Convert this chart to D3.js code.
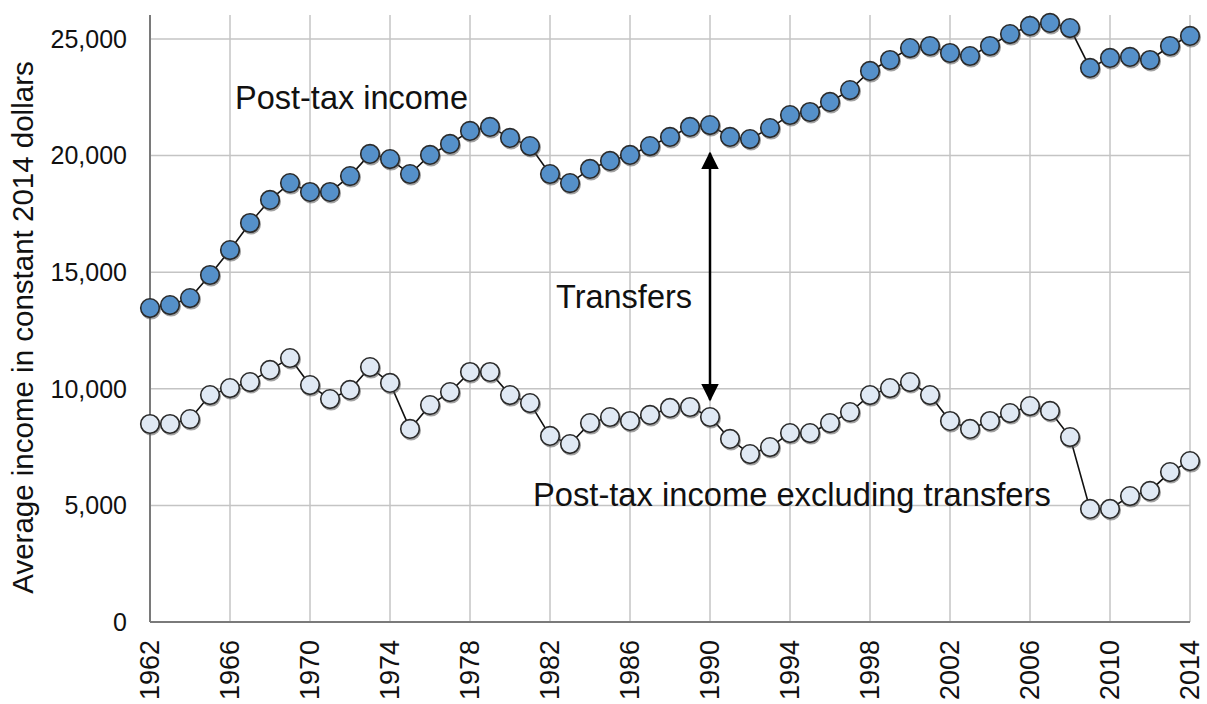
<!DOCTYPE html>
<html>
<head>
<meta charset="utf-8">
<script src="https://cdn.jsdelivr.net/npm/d3@7"></script>
<style>
  body { margin: 0; background: #fff; }
  svg text { font-family: "Liberation Sans", Arial, sans-serif; fill: #111; }
</style>
</head>
<body>
<svg id="chart"></svg>
<script>
// years 1962..2014
const years = d3.range(1962, 2015);

// average post-tax income (2014 dollars)
const postTax = [
  13460, 13590, 13890, 14880, 15950, 17110, 18100, 18820, 18440, 18440,
  19120, 20070, 19850, 19210, 20030, 20500, 21060, 21230, 20760, 20410,
  19210, 18820, 19430, 19770, 20030, 20410, 20800, 21230, 21310, 20800,
  20710, 21180, 21740, 21870, 22300, 22810, 23630, 24100, 24610, 24700,
  24400, 24270, 24700, 25210, 25560, 25690, 25470, 23760, 24190, 24230,
  24100, 24700, 25130
];

// post-tax income excluding transfers
const postTaxExTransfers = [
  8490, 8490, 8700, 9730, 10030, 10290, 10810, 11320, 10160, 9560,
  9950, 10930, 10250, 8280, 9300, 9860, 10720, 10720, 9730, 9390,
  7980, 7630, 8530, 8790, 8620, 8880, 9180, 9220, 8790, 7850,
  7200, 7500, 8100, 8100, 8530, 9000, 9730, 10030, 10290, 9730,
  8620, 8280, 8620, 8960, 9260, 9050, 7930, 4850, 4850, 5400,
  5620, 6430, 6900
];

const xTicks = d3.range(1962, 2015, 4);
const yTicks = [0, 5000, 10000, 15000, 20000, 25000];

const W = 1207, H = 704;
const mLeft = 150, mRight = 1190, mTop = 15, mBottom = 622;

const svg = d3.select("#chart").attr("width", W).attr("height", H);

const x = d3.scaleLinear().domain([1962, 2014]).range([mLeft, mRight]);
const y = d3.scaleLinear().domain([0, 25000]).range([mBottom, 39]);

// grid
svg.append("g").selectAll("line").data(yTicks.filter(d => d > 0)).enter().append("line")
  .attr("x1", mLeft).attr("x2", mRight)
  .attr("y1", d => y(d)).attr("y2", d => y(d))
  .attr("stroke", "#c4c4c4").attr("stroke-width", 1.5);

svg.append("g").selectAll("line").data(xTicks.filter(d => d > 1962)).enter().append("line")
  .attr("x1", d => x(d)).attr("x2", d => x(d))
  .attr("y1", mTop).attr("y2", mBottom)
  .attr("stroke", "#c4c4c4").attr("stroke-width", 1.5);

// axes lines
svg.append("line").attr("x1", mLeft).attr("x2", mLeft).attr("y1", mTop).attr("y2", mBottom)
  .attr("stroke", "#7a7a7a").attr("stroke-width", 2);
svg.append("line").attr("x1", mLeft).attr("x2", mRight).attr("y1", mBottom).attr("y2", mBottom)
  .attr("stroke", "#7a7a7a").attr("stroke-width", 2);

// tick labels
svg.append("g").selectAll("text").data(yTicks).enter().append("text")
  .attr("x", 127).attr("y", d => y(d)).attr("dy", "0.35em")
  .attr("text-anchor", "end").style("font-size", "25px")
  .text(d => d3.format(",")(d));

svg.append("g").selectAll("text").data(xTicks).enter().append("text")
  .attr("transform", d => `translate(${x(d) + 9},640) rotate(-90)`)
  .attr("text-anchor", "end").style("font-size", "27px")
  .text(d => d);

svg.append("text")
  .attr("transform", `translate(33,${(60 + 595) / 2}) rotate(-90)`)
  .attr("text-anchor", "middle").style("font-size", "29.5px")
  .text("Average income in constant 2014 dollars");

// series
const line = d3.line().x((d, i) => x(years[i])).y(d => y(d));

function drawSeries(values, fill) {
  svg.append("path").datum(values).attr("d", line)
    .attr("fill", "none").attr("stroke", "#111").attr("stroke-width", 1.6);
  const g = svg.append("g");
  g.selectAll("circle.sh").data(values).enter().append("circle")
    .attr("cx", (d, i) => x(years[i]) + 1).attr("cy", d => y(d) + 1.5)
    .attr("r", 10).attr("fill", "#555").attr("opacity", 0.55);
  g.selectAll("circle.pt").data(values).enter().append("circle")
    .attr("cx", (d, i) => x(years[i])).attr("cy", d => y(d))
    .attr("r", 9.3).attr("fill", fill).attr("stroke", "#2a2a2a").attr("stroke-width", 1.6);
}

drawSeries(postTax, "#5590c9");
drawSeries(postTaxExTransfers, "#e0e9f4");

// transfers arrow
const defs = svg.append("defs");
defs.append("marker").attr("id", "ah").attr("viewBox", "0 0 10 10")
  .attr("refX", 9).attr("refY", 5).attr("markerWidth", 7).attr("markerHeight", 7)
  .attr("markerUnits", "strokeWidth").attr("orient", "auto-start-reverse")
  .append("path").attr("d", "M0,0 L10,5 L0,10 Z").attr("fill", "#000");

svg.append("line")
  .attr("x1", x(1990)).attr("x2", x(1990))
  .attr("y1", y(20100)).attr("y2", y(9530))
  .attr("stroke", "#000").attr("stroke-width", 2.5)
  .attr("marker-start", "url(#ah)").attr("marker-end", "url(#ah)");

// annotations
svg.append("text").attr("x", 235).attr("y", 109).style("font-size", "32.5px").text("Post-tax income");
svg.append("text").attr("x", 556).attr("y", 308).style("font-size", "32.5px").text("Transfers");
svg.append("text").attr("x", 533).attr("y", 506).style("font-size", "32.7px").text("Post-tax income excluding transfers");
</script>
</body>
</html>
